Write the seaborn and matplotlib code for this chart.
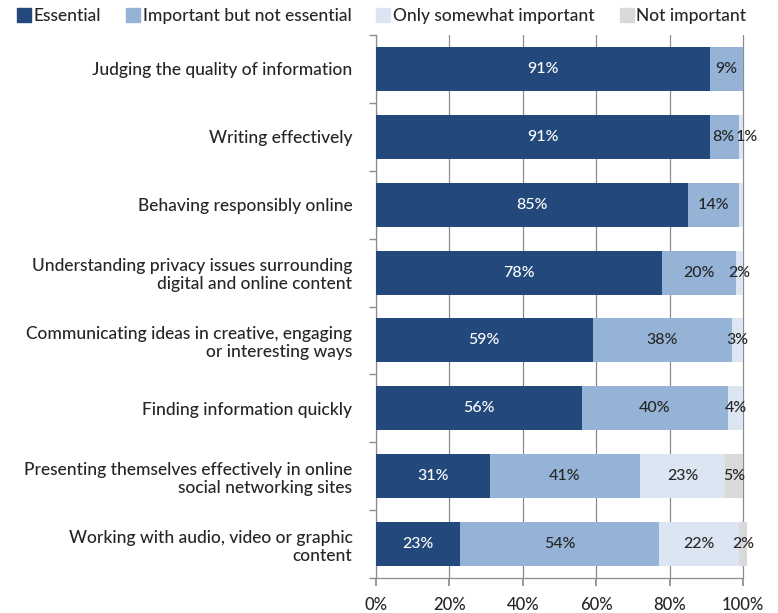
import matplotlib
matplotlib.use("Agg")
import matplotlib.pyplot as plt
import seaborn as sns
import numpy as np
import pandas as pd
from matplotlib.lines import Line2D
from matplotlib.ticker import FixedLocator, PercentFormatter

categories = [
    "Judging the quality of information",
    "Writing effectively",
    "Behaving responsibly online",
    "Understanding privacy issues surrounding\ndigital and online content",
    "Communicating ideas in creative, engaging\nor interesting ways",
    "Finding information quickly",
    "Presenting themselves effectively in online\nsocial networking sites",
    "Working with audio, video or graphic\ncontent",
]
series_names = ["Essential", "Important but not essential",
                "Only somewhat important", "Not important"]
essential = [91, 91, 85, 78, 59, 56, 31, 23]
important = [9, 8, 14, 20, 38, 40, 41, 54]
somewhat = [0, 1, 1, 2, 3, 4, 23, 22]
not_important = [0, 0, 0, 0, 0, 0, 5, 2]
# labels not printed in the reference (series index, category index)
hidden_labels = [(2, 2)]
# small label nudges in points (series index, category index) -> dx
label_nudges = {(2, 1): 4, (1, 1): -1}

colors = ["#23487B", "#95B3D7", "#DCE6F2", "#D9D9D9"]
text_colors = ["white", "#262626", "#262626", "#262626"]

sns.set_theme(style="white")
plt.rcParams["font.family"] = ["Lato", "DejaVu Sans"]
plt.rcParams["font.weight"] = "medium"

fig = plt.figure(figsize=(7.78, 6.13), dpi=100)
ax = fig.add_axes([376 / 778, (613 - 578) / 613, 370.7 / 778, (578 - 35) / 613])

values = np.array([essential, important, somewhat, not_important], dtype=float)
cum = np.cumsum(values, axis=0)

for i in range(3, -1, -1):
    df = pd.DataFrame({"cat": categories, "val": cum[i]})
    sns.barplot(data=df, x="val", y="cat", color=colors[i], orient="h",
                width=0.65, ax=ax, saturation=1, zorder=3, linewidth=0)

for i in range(4):
    for j in range(len(categories)):
        v = values[i, j]
        if v <= 0 or (i, j) in hidden_labels:
            continue
        center = cum[i, j] - v / 2
        ax.annotate(f"{int(v)}%", (center, j), xytext=(label_nudges.get((i, j), 0), 0),
                    textcoords="offset points", ha="center", va="center",
                    color=text_colors[i], fontsize=11.5, zorder=5)

ax.set_xlim(0, 101)
ax.set_ylim(len(categories) - 0.5, -0.5)
ax.xaxis.set_major_locator(FixedLocator([0, 20, 40, 60, 80, 100]))
ax.xaxis.set_major_formatter(PercentFormatter(decimals=0))
ax.grid(axis="x", color="#8c8c8c", linewidth=0.9, zorder=0)
ax.set_axisbelow(True)
ax.set_xlabel("")
ax.set_ylabel("")
for s in ["top", "right"]:
    ax.spines[s].set_visible(False)
for s in ["left", "bottom"]:
    ax.spines[s].set_color("#8c8c8c")
    ax.spines[s].set_linewidth(0.9)
ax.spines["bottom"].set_bounds(0, 100)
ax.tick_params(axis="x", length=6, color="#8c8c8c", labelsize=12,
               labelcolor="#262626", pad=8, bottom=True, direction="out")
ax.tick_params(axis="y", length=0, labelsize=12.5, labelcolor="#262626", pad=17)
ax.yaxis.set_minor_locator(FixedLocator(np.arange(-0.5, len(categories), 1.0)))
ax.tick_params(axis="y", which="minor", length=5, color="#8c8c8c", left=True)
for lab in ax.get_yticklabels():
    lab.set_multialignment("right")
    lab.set_linespacing(1.15)

handles = [Line2D([0], [0], marker="s", linestyle="", markersize=10,
                  markerfacecolor=c, markeredgecolor=c) for c in colors]
fig.legend(handles, series_names, loc="upper center", ncol=4,
           bbox_to_anchor=(0.49, 1.012), frameon=False, fontsize=12.5,
           handletextpad=0.1, columnspacing=1.4, handlelength=0.9,
           labelcolor="#262626")

fig.savefig("out.png", dpi=100)
